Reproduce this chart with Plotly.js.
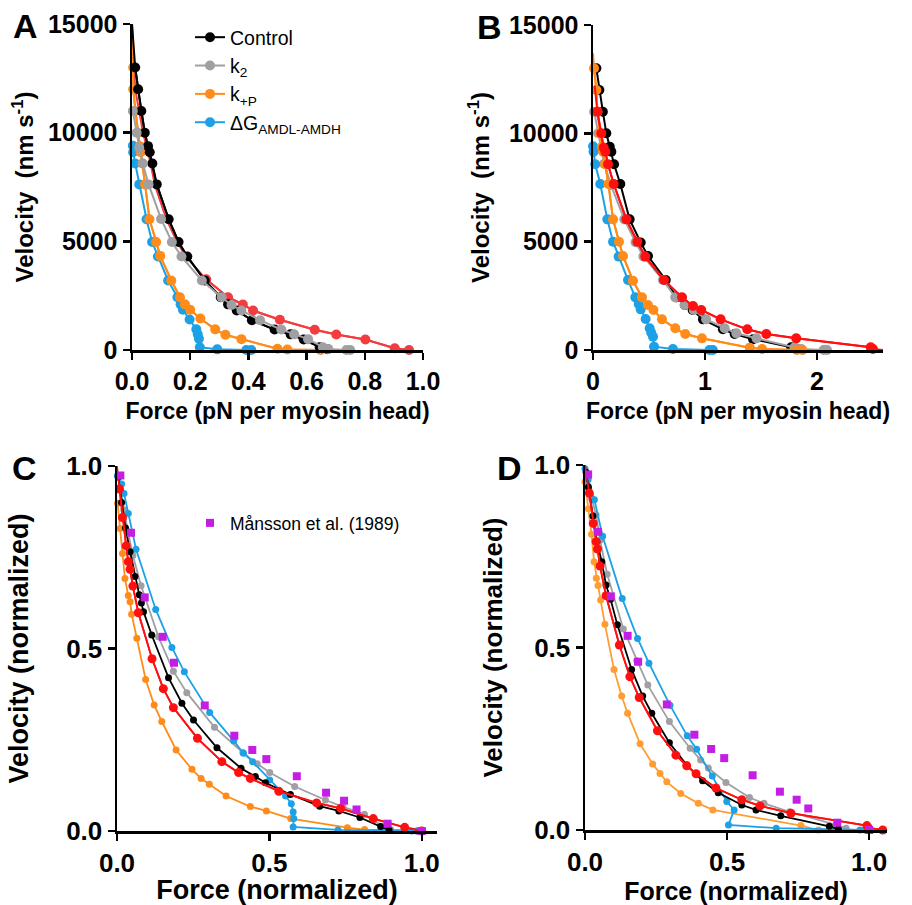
<!DOCTYPE html>
<html>
<head>
<meta charset="utf-8">
<script src="https://cdn.plot.ly/plotly-3.0.1.min.js"></script>
<style>html,body{margin:0;padding:0;background:#fff;}#chart{width:912px;height:905px;}</style>
</head>
<body>
<div id="chart"></div>
<script>
// ---------------- DATA ----------------
// Panel A: force (pN per myosin head) vs velocity (nm s^-1)
const A_ctrl_f = [0, 0.011, 0.021, 0.032, 0.044, 0.055, 0.061, 0.070, 0.085, 0.126, 0.160, 0.190, 0.250, 0.305, 0.330, 0.360, 0.412, 0.490, 0.545, 0.590, 0.645, 0.672];
const A_ctrl_v = [15000, 13000, 12000, 11000, 10000, 9380, 9100, 8580, 7620, 6020, 4970, 4300, 3200, 2430, 2100, 1820, 1370, 940, 720, 480, 130, 40];
const A_k2_f = [0.003, 0.016, 0.025, 0.037, 0.057, 0.100, 0.137, 0.170, 0.240, 0.308, 0.342, 0.376, 0.440, 0.513, 0.557, 0.605, 0.656, 0.674, 0.737, 0.750];
const A_k2_v = [11000, 10000, 9300, 8580, 7620, 6030, 4970, 4300, 3200, 2430, 2070, 1820, 1370, 940, 720, 500, 130, 50, 0, 0];
const A_kP_f = [0, 0.004, 0.004, 0.012, 0.020, 0.027, 0.030, 0.036, 0.045, 0.060, 0.083, 0.097, 0.135, 0.165, 0.182, 0.200, 0.235, 0.286, 0.321, 0.376, 0.500, 0.534, 0.648];
const A_kP_v = [15000, 13000, 12000, 11000, 10000, 9380, 9100, 8580, 7620, 6020, 4970, 4330, 3200, 2430, 2100, 1850, 1450, 950, 700, 500, 60, 20, 0];
const A_dG_f = [0.003, 0.004, 0.011, 0.025, 0.050, 0.069, 0.089, 0.124, 0.156, 0.167, 0.175, 0.198, 0.221, 0.226, 0.230, 0.233, 0.293, 0.393, 0.410];
const A_dG_v = [9400, 9100, 8580, 7620, 6020, 4970, 4300, 3200, 2430, 2100, 1850, 1400, 950, 720, 520, 130, 30, 0, 0];
const A_red_f = [0, 0.011, 0.038, 0.064, 0.078, 0.118, 0.155, 0.185, 0.255, 0.330, 0.381, 0.416, 0.508, 0.628, 0.702, 0.802, 0.903, 0.952];
const A_red_v = [15000, 12000, 10000, 8580, 7620, 6020, 4970, 4300, 3250, 2430, 2094, 1818, 1389, 929, 713, 483, 83, 0];

// Panel B
const B_ctrl_f = [0.030, 0.057, 0.088, 0.119, 0.150, 0.164, 0.188, 0.244, 0.327, 0.426, 0.491, 0.650, 0.745, 0.820, 0.890, 0.982, 1.160, 1.265, 1.430, 1.770, 1.820];
const B_ctrl_v = [13000, 12000, 11000, 10000, 9380, 9150, 8570, 7660, 6030, 4960, 4340, 3230, 2430, 2080, 1850, 1415, 954, 738, 500, 123, 46];
const B_k2_f = [0.010, 0.045, 0.070, 0.100, 0.160, 0.280, 0.380, 0.450, 0.625, 0.735, 0.818, 0.900, 1.010, 1.176, 1.280, 1.460, 1.800, 1.860, 2.060, 2.090];
const B_k2_v = [11000, 10000, 9300, 8600, 7620, 6030, 4970, 4320, 3230, 2430, 2080, 1846, 1415, 1000, 769, 538, 123, 46, 0, 0];
const B_kP_f = [0, 0.009, 0.030, 0.040, 0.062, 0.080, 0.090, 0.108, 0.138, 0.179, 0.232, 0.268, 0.357, 0.4375, 0.491, 0.540, 0.616, 0.735, 0.824, 0.973, 1.400, 1.510, 1.820, 1.870];
const B_kP_v = [13700, 13000, 12000, 11000, 10000, 9380, 9150, 8570, 7660, 6030, 5000, 4340, 3200, 2430, 2080, 1850, 1415, 1000, 738, 538, 108, 46, 0, 0];
const B_dG_f = [0.000, 0.005, 0.020, 0.065, 0.128, 0.179, 0.229, 0.3125, 0.378, 0.408, 0.426, 0.470, 0.506, 0.520, 0.536, 0.545, 0.714, 1.040, 1.070];
const B_dG_v = [9400, 9150, 8570, 7660, 6030, 5000, 4310, 3230, 2430, 2120, 1876, 1430, 1000, 800, 615, 154, 46, 0, 0];
const B_red_f = [0.015, 0.039, 0.074, 0.095, 0.110, 0.134, 0.185, 0.298, 0.396, 0.467, 0.634, 0.795, 0.893, 0.967, 1.140, 1.378, 1.548, 1.815, 2.480, 2.500, 2.590];
const B_red_v = [12200, 11000, 10000, 9340, 9150, 8570, 7660, 6030, 5000, 4310, 3230, 2430, 2030, 1846, 1415, 954, 738, 538, 123, 46, 0];

// Panel C (normalized)
const C_ctrl_f = [0.004, 0.015, 0.028, 0.043, 0.059, 0.073, 0.080, 0.087, 0.114, 0.169, 0.213, 0.251, 0.328, 0.407, 0.454, 0.487, 0.569, 0.665, 0.728, 0.797, 0.865, 0.893];
const C_ctrl_v = [0.97, 0.90, 0.83, 0.765, 0.697, 0.647, 0.625, 0.601, 0.537, 0.420, 0.350, 0.304, 0.228, 0.172, 0.149, 0.132, 0.100, 0.068, 0.055, 0.037, 0.012, 0.003];
const C_k2_f = [0.004, 0.022, 0.036, 0.052, 0.079, 0.136, 0.185, 0.229, 0.320, 0.413, 0.460, 0.501, 0.583, 0.684, 0.742, 0.812, 0.874, 0.898, 0.985, 1.000];
const C_k2_v = [0.970, 0.880, 0.820, 0.755, 0.672, 0.532, 0.438, 0.379, 0.284, 0.215, 0.184, 0.160, 0.122, 0.085, 0.066, 0.046, 0.012, 0.004, 0, 0];
const C_kP_f = [0.002, 0.010, 0.018, 0.026, 0.037, 0.043, 0.048, 0.065, 0.094, 0.122, 0.147, 0.194, 0.246, 0.276, 0.303, 0.358, 0.4375, 0.490, 0.570, 0.756, 0.8125, 0.985];
const C_kP_v = [0.898, 0.829, 0.760, 0.692, 0.645, 0.628, 0.594, 0.528, 0.415, 0.345, 0.300, 0.222, 0.169, 0.144, 0.128, 0.096, 0.067, 0.055, 0.034, 0.009, 0.004, 0];
const C_dG_f = [0.001, 0.015, 0.023, 0.037, 0.0625, 0.127, 0.180, 0.221, 0.304, 0.383, 0.415, 0.445, 0.501, 0.553, 0.572, 0.578, 0.580, 0.578, 0.725, 0.967, 0.985];
const C_dG_v = [0.973, 0.951, 0.925, 0.870, 0.772, 0.607, 0.503, 0.436, 0.325, 0.247, 0.213, 0.190, 0.140, 0.096, 0.075, 0.052, 0.034, 0.011, 0.003, 0, 0];
const C_red_f = [0, 0.008, 0.018, 0.030, 0.037, 0.043, 0.052, 0.070, 0.115, 0.152, 0.185, 0.264, 0.344, 0.399, 0.4375, 0.531, 0.655, 0.734, 0.841, 0.944, 1.000];
const C_red_v = [1.0, 0.937, 0.859, 0.781, 0.738, 0.717, 0.671, 0.598, 0.472, 0.390, 0.338, 0.254, 0.190, 0.160, 0.144, 0.109, 0.077, 0.062, 0.034, 0.010, 0.0];

// Panel D (normalized)
const D_ctrl_f = [0.004, 0.012, 0.028, 0.042, 0.059, 0.074, 0.090, 0.114, 0.164, 0.203, 0.235, 0.297, 0.358, 0.414, 0.469, 0.552, 0.602, 0.689, 0.860, 0.892];
const D_ctrl_v = [0.98, 0.94, 0.86, 0.79, 0.735, 0.671, 0.632, 0.562, 0.440, 0.367, 0.320, 0.239, 0.178, 0.135, 0.102, 0.0685, 0.055, 0.039, 0.010, 0.002];
const D_k2_f = [0.006, 0.022, 0.039, 0.053, 0.078, 0.135, 0.182, 0.221, 0.297, 0.370, 0.407, 0.434, 0.496, 0.579, 0.630, 0.720, 0.884, 0.919];
const D_k2_v = [0.96, 0.91, 0.863, 0.794, 0.701, 0.551, 0.464, 0.397, 0.297, 0.224, 0.192, 0.170, 0.130, 0.089, 0.073, 0.050, 0.014, 0.005];
const D_kP_f = [0.000, 0.012, 0.023, 0.032, 0.040, 0.046, 0.055, 0.070, 0.102, 0.129, 0.150, 0.194, 0.238, 0.264, 0.288, 0.337, 0.399, 0.450, 0.760, 0.822];
const D_kP_v = [0.954, 0.880, 0.810, 0.735, 0.690, 0.670, 0.630, 0.564, 0.440, 0.367, 0.320, 0.236, 0.181, 0.155, 0.132, 0.100, 0.073, 0.055, 0.012, 0.000];
const D_dG_f = [0.000, 0.011, 0.033, 0.062, 0.131, 0.185, 0.225, 0.299, 0.360, 0.393, 0.448, 0.499, 0.525, 0.505, 0.673, 0.968, 0.985];
const D_dG_v = [0.990, 0.960, 0.905, 0.805, 0.634, 0.525, 0.457, 0.342, 0.258, 0.221, 0.148, 0.078, 0.055, 0.014, 0.005, 0.000, 0.000];
const D_red_f = [0, 0.015, 0.029, 0.039, 0.044, 0.053, 0.074, 0.121, 0.158, 0.191, 0.255, 0.320, 0.358, 0.391, 0.461, 0.552, 0.616, 0.725, 0.992, 0.998, 1.048];
const D_red_v = [1.0, 0.923, 0.840, 0.790, 0.770, 0.723, 0.642, 0.507, 0.420, 0.363, 0.272, 0.205, 0.176, 0.154, 0.115, 0.083, 0.066, 0.046, 0.012, 0.006, 0.000];

// Månsson et al. (1989), shown in C and D
const mansson_f = [0.011, 0.046, 0.091, 0.150, 0.187, 0.288, 0.385, 0.444, 0.490, 0.590, 0.686, 0.745, 0.786, 0.888, 1.0];
const mansson_v = [0.974, 0.817, 0.640, 0.532, 0.461, 0.344, 0.261, 0.222, 0.197, 0.150, 0.105, 0.083, 0.059, 0.020, 0.0];

// Legend labels
const seriesNames = ['Control', 'k<sub>2</sub>', 'k<sub>+P</sub>', '\u0394G<sub>AMDL-AMDH</sub>'];
const manssonName = 'M\u00e5nsson et al. (1989)';

// ---------------- STYLE ----------------
const FONT = '"Liberation Sans", Arial, Helvetica, sans-serif';
const COL = {ctrl:'#000000', k2:'#A0A0A4', kP:'#FF8C1A', dG:'#1DA1E6', redA:'#F23C40', red:'#FF1010', mag:'#C41EE4', kPD:'#FF9D33'};

const traces = [];
function addSeries(ax, f, v, color, nm, o) {
  o = o || {};
  const lead = o.lead || 0, tail = o.tail || 0, n = f.length;
  const width = o.width || 2, size = o.size || 10;
  if (lead || tail) {
    traces.push({type:'scatter', mode:'lines', x:f, y:v, xaxis:ax[0], yaxis:ax[1], name:nm,
      line:{color:color, width:width}, showlegend:false, hoverinfo:'skip'});
  }
  const t = {type:'scatter', mode:'lines+markers', x:f.slice(lead, n - tail), y:v.slice(lead, n - tail),
    xaxis:ax[0], yaxis:ax[1], line:{color:color, width:width},
    marker:{color:color, size:size, line:{width:0}}, cliponaxis:false,
    showlegend:!!o.legend, name:nm, hoverinfo:'x+y'};
  if (o.legend) { t.legend = o.legend; t.legendrank = o.rank || 1000; }
  traces.push(t);
}

// Panel A
const aA = ['x', 'y'];
addSeries(aA, A_red_f, A_red_v, COL.redA, 'red', {lead:8});
addSeries(aA, A_dG_f, A_dG_v, COL.dG, seriesNames[3], {legend:'legend', rank:4});
addSeries(aA, A_kP_f, A_kP_v, COL.kP, seriesNames[2], {lead:1, legend:'legend', rank:3});
addSeries(aA, A_ctrl_f, A_ctrl_v, COL.ctrl, seriesNames[0], {lead:1, legend:'legend', rank:1});
addSeries(aA, A_k2_f, A_k2_v, COL.k2, seriesNames[1], {legend:'legend', rank:2});
// Panel B
const aB = ['x2', 'y2'];
addSeries(aB, B_ctrl_f, B_ctrl_v, COL.ctrl, seriesNames[0]);
addSeries(aB, B_k2_f, B_k2_v, COL.k2, seriesNames[1]);
addSeries(aB, B_dG_f, B_dG_v, COL.dG, seriesNames[3]);
addSeries(aB, B_kP_f, B_kP_v, COL.kP, seriesNames[2], {lead:1});
addSeries(aB, B_red_f, B_red_v, COL.red, 'red', {lead:1, tail:1});
// Panel C
const aC = ['x3', 'y3'];
const sm = {size:7, width:1.8};
addSeries(aC, C_kP_f, C_kP_v, COL.kP, seriesNames[2], sm);
addSeries(aC, C_k2_f, C_k2_v, COL.k2, seriesNames[1], sm);
addSeries(aC, C_dG_f, C_dG_v, COL.dG, seriesNames[3], sm);
addSeries(aC, C_ctrl_f, C_ctrl_v, COL.ctrl, seriesNames[0], sm);
addSeries(aC, C_red_f, C_red_v, COL.red, 'red', {size:9, width:1.8, lead:1});
traces.push({type:'scatter', mode:'markers', x:mansson_f, y:mansson_v, xaxis:'x3', yaxis:'y3',
  marker:{symbol:'square', color:COL.mag, size:8}, cliponaxis:false, name:manssonName,
  showlegend:true, legend:'legend2'});
// Panel D
const aD = ['x4', 'y4'];
addSeries(aD, D_kP_f, D_kP_v, COL.kPD, seriesNames[2], sm);
addSeries(aD, D_k2_f, D_k2_v, COL.k2, seriesNames[1], sm);
addSeries(aD, D_dG_f, D_dG_v, COL.dG, seriesNames[3], sm);
addSeries(aD, D_ctrl_f, D_ctrl_v, COL.ctrl, seriesNames[0], sm);
addSeries(aD, D_red_f, D_red_v, COL.red, 'red', {size:9, width:1.8, lead:1});
traces.push({type:'scatter', mode:'markers', x:mansson_f, y:mansson_v, xaxis:'x4', yaxis:'y4',
  marker:{symbol:'square', color:COL.mag, size:8}, cliponaxis:false, name:manssonName, showlegend:false});

// ---------------- LAYOUT ----------------
const W = 912, H = 905;
const px = (a, b) => [a / W, b / W];
const py = (top, bottom) => [1 - bottom / H, 1 - top / H];
function ax(extra, fs, title, tfs, standoff) {
  return Object.assign({
    showline:true, linecolor:'#000', linewidth:2.5, mirror:false,
    ticks:'outside', ticklen:7, tickwidth:2.5, tickcolor:'#000',
    showgrid:false, zeroline:false, fixedrange:true,
    tickfont:{family:FONT, size:fs, color:'#000', weight:'bold'},
    title:{text:title, font:{family:FONT, size:tfs, color:'#000', weight:'bold'}, standoff:standoff},
    automargin:false
  }, extra);
}
const layout = {
  width:W, height:H, margin:{l:0, r:0, t:0, b:0},
  paper_bgcolor:'#fff', plot_bgcolor:'rgba(0,0,0,0)',
  font:{family:FONT, color:'#000'},
  showlegend:true,
  xaxis: ax({domain:px(132, 423), range:[0, 1.0], tickvals:[0,0.2,0.4,0.6,0.8,1.0], tickformat:'.1f', anchor:'y'}, 25, 'Force (pN per myosin head)', 23, 10),
  yaxis: ax({domain:py(24, 350), range:[0, 15000], tickvals:[0,5000,10000,15000], tickformat:'d', anchor:'x'}, 25, 'Velocity  (nm s<sup>-1</sup>)', 24, 8),
  xaxis2: ax({domain:px(593, 883), range:[0, 2.59], tickvals:[0,1,2], tickformat:'d', anchor:'y2'}, 25, 'Force (pN per myosin head)', 23, 10),
  yaxis2: ax({domain:py(25, 350), range:[0, 15000], tickvals:[0,5000,10000,15000], tickformat:'d', anchor:'x2'}, 25, 'Velocity  (nm s<sup>-1</sup>)', 24, 13),
  xaxis3: ax({domain:px(117, 437), range:[0, 1.05], tickvals:[0,0.5,1.0], tickformat:'.1f', anchor:'y3'}, 26, 'Force (normalized)', 27, 14),
  yaxis3: ax({domain:py(466, 831), range:[0, 1.0], tickvals:[0,0.5,1.0], tickformat:'.1f', anchor:'x3'}, 26, 'Velocity (normalized)', 27, 30),
  xaxis4: ax({domain:px(585, 887), range:[0, 1.063], tickvals:[0,0.5,1.0], tickformat:'.1f', anchor:'y4'}, 26, 'Force (normalized)', 25, 14),
  yaxis4: ax({domain:py(465, 830), range:[0, 1.0], tickvals:[0,0.5,1.0], tickformat:'.1f', anchor:'x4'}, 26, 'Velocity (normalized)', 26, 24),
  legend:{x:190/W, y:1 - 18/H, xanchor:'left', yanchor:'top', bgcolor:'rgba(0,0,0,0)', borderwidth:0,
    font:{family:FONT, size:19.5, color:'#000'}, tracegroupgap:0, itemclick:false, itemdoubleclick:false},
  legend2:{x:190/W, y:1 - 505/H, xanchor:'left', yanchor:'top', bgcolor:'rgba(0,0,0,0)', borderwidth:0,
    font:{family:FONT, size:17.5, color:'#000'}, itemclick:false, itemdoubleclick:false},
  annotations:[
    {text:'A', x:25/W, y:1 - 26/H},
    {text:'B', x:490/W, y:1 - 27/H},
    {text:'C', x:24/W, y:1 - 468/H},
    {text:'D', x:509/W, y:1 - 468/H}
  ].map(a => Object.assign({xref:'paper', yref:'paper', xanchor:'center', yanchor:'middle', showarrow:false,
    font:{family:FONT, size:34, color:'#000', weight:'bold'}}, a))
};
Plotly.newPlot('chart', traces, layout, {staticPlot:true, displayModeBar:false});
</script>
</body>
</html>
